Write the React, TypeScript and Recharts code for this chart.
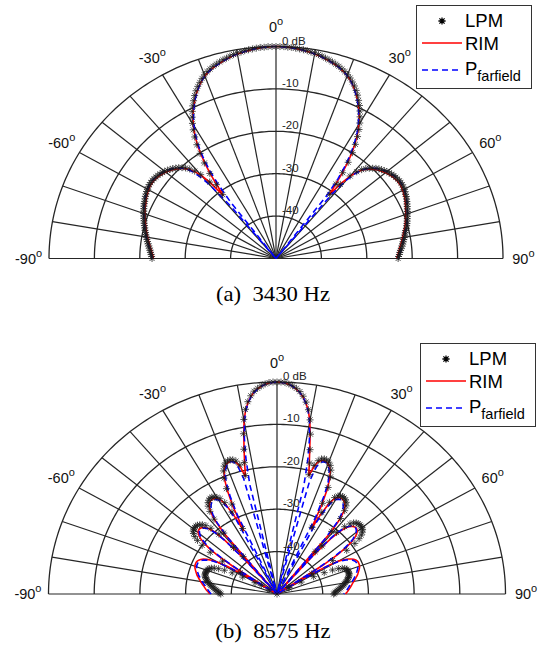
import React from 'react';
import { ComposedChart, Line, Scatter, XAxis, YAxis, Legend } from 'recharts';

// Sampling angles of every pattern, -90 deg .. 90 deg in 1 deg steps
const ANGLES_DEG: number[] = Array.from({ length: 181 }, (_, i) => i - 90);

const RING_LEVELS_DB = [-40, -30, -20, -10, 0];
const RING_LABELS = ['-40', '-30', '-20', '-10', '0 dB'];
const SPOKE_ANGLES_DEG = [-90, -80, -70, -60, -50, -40, -30, -20, -10, 0, 10, 20, 30, 40, 50, 60, 70, 80, 90];
const ANGLE_TICKS_DEG = [-90, -60, -30, 0, 30, 60, 90];
const ANGLE_TICK_LABELS = ['-90', '-60', '-30', '0', '30', '60', '90'];
const DB_FLOOR = -50;
const DB_CEIL = 0;

const CAPTION_A = '(a)  3430 Hz';
const CAPTION_B = '(b)  8575 Hz';

// ---- 3430 Hz ----
const TOP_LPM_DB = [
  -22.7, -22.6, -22.5, -22.3, -22.2, -22.0, -21.8, -21.6, -21.4, -21.2,
  -21.0, -20.8, -20.6, -20.4, -20.2, -20.0, -19.8, -19.6, -19.4, -19.2,
  -19.0, -18.8, -18.6, -18.4, -18.2, -18.1, -17.9, -17.7, -17.6, -17.4,
  -17.3, -17.2, -17.1, -17.1, -17.1, -17.2, -17.3, -17.4, -17.6, -17.8,
  -18.0, -18.3, -18.6, -18.9, -19.3, -19.7, -20.2, -20.8, -21.6, -22.7,
  -24.2, -26.8, -30.9, -28.2, -25.2, -22.5, -20.1, -18.0, -16.2, -14.6,
  -13.2, -11.9, -10.7, -9.6, -8.6, -7.6, -6.7, -5.9, -5.2, -4.5,
  -3.9, -3.4, -3.0, -2.6, -2.3, -2.0, -1.7, -1.5, -1.2, -1.0,
  -0.8, -0.7, -0.5, -0.4, -0.3, -0.2, -0.1, -0.1, 0, 0,
  0, 0, 0, -0.1, -0.1, -0.2, -0.3, -0.4, -0.5, -0.7,
  -0.8, -1.0, -1.2, -1.5, -1.7, -2.0, -2.3, -2.6, -3.0, -3.4,
  -3.9, -4.4, -5.1, -5.8, -6.6, -7.5, -8.5, -9.5, -10.6, -11.8,
  -13.1, -14.5, -16.1, -17.9, -19.9, -22.3, -25.0, -28.0, -30.8, -27.5,
  -24.6, -22.9, -21.8, -21.0, -20.4, -19.9, -19.4, -19.0, -18.7, -18.4,
  -18.1, -17.9, -17.7, -17.5, -17.4, -17.3, -17.2, -17.2, -17.2, -17.3,
  -17.4, -17.5, -17.7, -17.8, -18.0, -18.2, -18.4, -18.6, -18.8, -19.0,
  -19.2, -19.4, -19.6, -19.8, -20.0, -20.2, -20.4, -20.7, -20.9, -21.1,
  -21.3, -21.5, -21.7, -21.9, -22.1, -22.3, -22.5, -22.7, -22.8, -23.0,
  -23.1,
];

const TOP_RIM_DB = [
  -23.0, -22.9, -22.8, -22.6, -22.5, -22.3, -22.1, -21.9, -21.7, -21.5,
  -21.3, -21.1, -20.9, -20.7, -20.5, -20.3, -20.1, -19.9, -19.7, -19.5,
  -19.3, -19.1, -18.9, -18.7, -18.6, -18.4, -18.2, -18.0, -17.9, -17.7,
  -17.6, -17.5, -17.4, -17.4, -17.4, -17.5, -17.6, -17.7, -17.9, -18.1,
  -18.3, -18.6, -18.9, -19.2, -19.6, -20.0, -20.5, -21.1, -21.9, -23.0,
  -24.5, -27.0, -31.2, -28.6, -25.6, -22.9, -20.5, -18.4, -16.6, -15.0,
  -13.6, -12.3, -11.1, -10.0, -9.0, -8.0, -7.1, -6.3, -5.5, -4.8,
  -4.2, -3.7, -3.3, -2.9, -2.6, -2.3, -2.0, -1.7, -1.5, -1.2,
  -1.0, -0.9, -0.7, -0.6, -0.4, -0.3, -0.2, -0.1, -0.1, 0,
  0, 0, -0.1, -0.1, -0.2, -0.3, -0.4, -0.5, -0.7, -0.8,
  -1.0, -1.2, -1.4, -1.7, -1.9, -2.2, -2.5, -2.8, -3.2, -3.6,
  -4.1, -4.7, -5.4, -6.2, -7.0, -7.9, -8.9, -9.9, -11.0, -12.2,
  -13.5, -14.9, -16.5, -18.3, -20.3, -22.7, -25.4, -28.4, -31.0, -27.2,
  -24.7, -23.2, -22.1, -21.3, -20.7, -20.2, -19.8, -19.4, -19.1, -18.8,
  -18.5, -18.3, -18.1, -17.9, -17.8, -17.7, -17.6, -17.6, -17.6, -17.7,
  -17.8, -17.9, -18.1, -18.2, -18.4, -18.6, -18.8, -19.0, -19.2, -19.4,
  -19.6, -19.8, -20.0, -20.2, -20.4, -20.6, -20.8, -21.1, -21.3, -21.5,
  -21.7, -21.9, -22.1, -22.3, -22.5, -22.7, -22.8, -23.0, -23.1, -23.3,
  -23.4,
];

const TOP_FAR_DB = [
  -22.7, -22.6, -22.5, -22.3, -22.2, -22.0, -21.8, -21.6, -21.4, -21.2,
  -21.0, -20.8, -20.6, -20.4, -20.2, -20.0, -19.8, -19.6, -19.4, -19.2,
  -19.0, -18.8, -18.6, -18.4, -18.3, -18.1, -17.9, -17.7, -17.6, -17.4,
  -17.3, -17.2, -17.1, -17.1, -17.1, -17.2, -17.3, -17.4, -17.6, -17.8,
  -18.0, -18.3, -18.6, -18.9, -19.3, -19.8, -20.4, -21.2, -22.4, -24.3,
  -27.4, -34.0, -60.0, -33.5, -28.0, -24.2, -21.4, -19.0, -17.1, -15.4,
  -13.9, -12.6, -11.3, -10.2, -9.1, -8.1, -7.2, -6.3, -5.5, -4.8,
  -4.2, -3.7, -3.3, -2.9, -2.6, -2.3, -2.0, -1.7, -1.5, -1.2,
  -1.0, -0.9, -0.7, -0.6, -0.4, -0.3, -0.2, -0.1, -0.1, 0,
  0, 0, -0.1, -0.1, -0.2, -0.3, -0.4, -0.5, -0.7, -0.8,
  -1.0, -1.2, -1.4, -1.7, -1.9, -2.2, -2.5, -2.8, -3.2, -3.6,
  -4.1, -4.7, -5.4, -6.2, -7.1, -8.0, -9.0, -10.1, -11.2, -12.5,
  -13.8, -15.3, -17.0, -18.9, -21.1, -23.7, -26.8, -31.5, -62.0, -30.5,
  -25.8, -23.5, -22.1, -21.1, -20.4, -19.9, -19.4, -19.0, -18.7, -18.4,
  -18.1, -17.9, -17.7, -17.5, -17.4, -17.3, -17.2, -17.2, -17.2, -17.3,
  -17.4, -17.5, -17.7, -17.8, -18.0, -18.2, -18.4, -18.6, -18.8, -19.0,
  -19.2, -19.4, -19.6, -19.8, -20.0, -20.2, -20.4, -20.7, -20.9, -21.1,
  -21.3, -21.5, -21.7, -21.9, -22.1, -22.3, -22.4, -22.6, -22.7, -22.9,
  -23.0,
];

// ---- 8575 Hz ----
const BOTTOM_LPM_DB = [
  -37.7, -37.5, -37.2, -36.9, -36.6, -36.3, -36.0, -35.7, -35.4, -35.1,
  -34.8, -34.5, -34.3, -34.1, -33.9, -33.7, -33.6, -33.6, -33.6, -33.6,
  -33.7, -33.8, -34.0, -34.4, -35.0, -35.9, -37.2, -39.0, -41.5, -44.5,
  -48.0, -46.0, -40.5, -35.8, -32.4, -30.0, -28.5, -27.5, -26.8, -26.4,
  -26.2, -26.1, -26.1, -26.2, -26.5, -26.9, -27.6, -28.8, -31.0, -35.5,
  -38.5, -31.5, -27.6, -25.6, -24.4, -23.7, -23.3, -23.1, -23.1, -23.3,
  -23.7, -24.3, -25.6, -28.3, -32.8, -26.6, -22.8, -20.3, -18.7, -17.7,
  -17.1, -16.8, -16.7, -16.9, -17.4, -18.5, -21.2, -18.2, -15.1, -11.5,
  -8.2, -5.9, -4.2, -2.9, -1.9, -1.3, -0.8, -0.4, -0.1, 0,
  0, 0, -0.1, -0.4, -0.8, -1.3, -2.0, -3.0, -4.3, -6.0,
  -8.3, -11.6, -15.2, -18.3, -21.0, -18.6, -17.3, -16.7, -16.5, -16.6,
  -16.9, -17.5, -18.5, -20.0, -22.5, -26.4, -32.5, -28.4, -25.5, -24.0,
  -23.3, -23.0, -22.9, -23.0, -23.2, -23.6, -24.3, -25.4, -27.4, -31.0,
  -37.0, -35.0, -30.5, -28.3, -27.0, -26.3, -25.9, -25.7, -25.6, -25.6,
  -25.7, -25.9, -26.3, -26.9, -27.8, -29.2, -31.6, -35.5, -41.0, -47.0,
  -50.0, -47.0, -44.0, -41.0, -38.5, -36.6, -35.3, -34.5, -34.0, -33.7,
  -33.6, -33.5, -33.5, -33.5, -33.6, -33.7, -33.9, -34.1, -34.3, -34.6,
  -34.8, -35.1, -35.4, -35.7, -36.0, -36.3, -36.6, -36.9, -37.2, -37.4,
  -37.6,
];

const BOTTOM_RIM_DB = [
  -35.3, -35.1, -34.9, -34.6, -34.4, -34.2, -34.0, -33.8, -33.5, -33.3,
  -33.0, -32.8, -32.5, -32.3, -32.0, -31.8, -31.6, -31.4, -31.2, -31.0,
  -30.9, -30.8, -30.8, -30.8, -30.9, -31.1, -31.4, -31.9, -32.6, -33.6,
  -35.0, -37.4, -43.0, -56.0, -38.5, -34.2, -31.6, -30.0, -28.8, -28.0,
  -27.5, -27.2, -27.1, -27.2, -27.4, -27.9, -28.6, -30.0, -32.8, -39.0,
  -51.0, -31.8, -28.0, -26.0, -24.9, -24.2, -23.8, -23.6, -23.5, -23.7,
  -24.1, -24.7, -26.1, -29.0, -33.5, -27.2, -23.3, -20.7, -19.1, -18.1,
  -17.5, -17.2, -17.1, -17.3, -17.8, -18.9, -21.5, -18.5, -15.4, -11.9,
  -8.5, -6.1, -4.4, -3.1, -2.1, -1.4, -0.9, -0.5, -0.2, -0.1,
  0, -0.1, -0.2, -0.5, -0.9, -1.5, -2.2, -3.2, -4.5, -6.2,
  -8.6, -12.0, -15.6, -18.6, -21.3, -19.0, -17.7, -17.1, -16.9, -17.0,
  -17.3, -17.9, -18.9, -20.5, -23.0, -27.0, -33.0, -29.0, -26.0, -24.5,
  -23.8, -23.5, -23.4, -23.5, -23.7, -24.1, -24.7, -25.8, -27.8, -31.5,
  -50.0, -38.0, -32.5, -29.8, -28.3, -27.5, -27.0, -26.8, -26.7, -26.8,
  -27.1, -27.6, -28.4, -29.6, -31.3, -33.8, -38.0, -55.0, -43.0, -37.0,
  -34.6, -33.3, -32.4, -31.8, -31.3, -31.0, -30.8, -30.7, -30.7, -30.7,
  -30.8, -30.9, -31.1, -31.3, -31.5, -31.7, -31.9, -32.2, -32.4, -32.7,
  -32.9, -33.2, -33.4, -33.6, -33.8, -34.0, -34.2, -34.4, -34.6, -34.8,
  -35.0,
];

const BOTTOM_FAR_DB = [
  -35.6, -35.4, -35.2, -35.0, -34.8, -34.6, -34.4, -34.2, -33.9, -33.7,
  -33.4, -33.2, -32.9, -32.7, -32.4, -32.2, -32.0, -31.8, -31.6, -31.4,
  -31.3, -31.2, -31.2, -31.2, -31.3, -31.5, -31.8, -32.3, -33.0, -34.1,
  -35.6, -38.2, -44.5, -60.0, -39.8, -35.2, -32.4, -30.6, -29.4, -28.5,
  -27.9, -27.5, -27.4, -27.4, -27.6, -28.1, -28.9, -30.4, -33.5, -40.0,
  -60.0, -33.0, -28.8, -26.8, -25.6, -24.8, -24.3, -24.0, -23.9, -24.0,
  -24.4, -25.2, -26.8, -30.5, -60.0, -29.5, -24.8, -21.8, -19.8, -18.6,
  -17.8, -17.3, -17.2, -17.4, -18.3, -21.8, -60.0, -23.5, -17.2, -12.6,
  -8.9, -6.3, -4.5, -3.2, -2.2, -1.5, -0.9, -0.5, -0.2, -0.1,
  0, -0.1, -0.2, -0.5, -0.9, -1.5, -2.2, -3.2, -4.6, -6.4,
  -9.0, -12.8, -17.5, -24.0, -60.0, -22.5, -18.8, -17.6, -17.2, -17.2,
  -17.6, -18.3, -19.5, -21.4, -24.5, -30.0, -60.0, -31.0, -27.0, -25.2,
  -24.3, -23.9, -23.8, -23.9, -24.2, -24.7, -25.5, -26.8, -29.0, -33.5,
  -60.0, -36.5, -31.5, -29.2, -28.0, -27.3, -26.9, -26.8, -26.8, -27.0,
  -27.4, -28.0, -28.9, -30.2, -32.0, -34.8, -39.5, -60.0, -44.0, -37.8,
  -35.2, -33.8, -32.9, -32.2, -31.7, -31.4, -31.2, -31.1, -31.1, -31.1,
  -31.2, -31.3, -31.5, -31.7, -31.9, -32.1, -32.3, -32.6, -32.8, -33.1,
  -33.3, -33.6, -33.8, -34.0, -34.2, -34.4, -34.6, -34.8, -35.0, -35.2,
  -35.4,
];

// ---- geometry helpers ----
const CHART_W = 546;
const CHART_H = 280;
const GRID = '#262626';
const SANS = 'Arial, "Liberation Sans", Helvetica, sans-serif';
const SERIF = '"Times New Roman", "Liberation Serif", Times, serif';

type Pt = { x: number; y: number; text?: string };
type Geo = { cx: number; cy: number; rx: number; ry: number };

function toPoint(deg: number, r: number): Pt {
  const t = (deg * Math.PI) / 180;
  return { x: r * Math.sin(t), y: r * Math.cos(t) };
}
function dbToRadius(db: number) {
  return Math.max(0, (db - DB_FLOOR) / (DB_CEIL - DB_FLOOR));
}
function pattern(values: number[]): Pt[] {
  return ANGLES_DEG.map((a, i) => toPoint(a, dbToRadius(values[i])));
}

const ringPaths = RING_LEVELS_DB.map((db) => ANGLES_DEG.map((a) => toPoint(a, dbToRadius(db))));
const spokePaths = SPOKE_ANGLES_DEG.map((a) => [toPoint(a, 0), toPoint(a, 1)]);
const ringLabelPts = RING_LEVELS_DB.map((db, i) => ({ ...toPoint(0, dbToRadius(db)), text: RING_LABELS[i] }));
const angleLabelPts = ANGLE_TICKS_DEG.map((a, i) => ({ ...toPoint(a, 1.09), text: ANGLE_TICK_LABELS[i] }));

function asteriskPath(cx: number, cy: number, s: number) {
  const d = s * 0.72;
  return `M${cx - s},${cy}H${cx + s}M${cx},${cy - s}V${cy + s}M${cx - d},${cy - d}L${cx + d},${cy + d}M${cx - d},${cy + d}L${cx + d},${cy - d}`;
}

const Asterisk = (p: any) => {
  if (p.cx == null || p.cy == null) return <g />;
  return <path d={asteriskPath(p.cx, p.cy, 3.5)} stroke="#1a1a1a" strokeWidth={0.75} fill="none" />;
};

const AngleLabel = (p: any) => (
  <text x={p.cx} y={p.cy} textAnchor="middle" dominantBaseline="central" fontSize={14.5} fontFamily={SANS} fill="#111">
    {p.payload?.text}
    <tspan dy={-6} fontSize={11}>o</tspan>
  </text>
);

const RingLabel = (p: any) => (
  <text x={p.cx + 6} y={p.cy - 2} fontSize={11.5} fontFamily={SANS} fill="#222">
    {p.payload?.text}
  </text>
);

const LegendBox = () => (
  <svg width={116} height={84} style={{ display: 'block' }}>
    <rect x={0.5} y={0.5} width={115} height={83} fill="#fff" stroke="#333" strokeWidth={1} />
    <path d={asteriskPath(26, 16, 3.6)} stroke="#000" strokeWidth={1.3} fill="none" />
    <text x={49} y={22} fontSize={18.5} fontFamily={SANS} fill="#000">LPM</text>
    <line x1={6} x2={46} y1={38} y2={38} stroke="#ff0000" strokeWidth={1.3} />
    <text x={49} y={45} fontSize={18.5} fontFamily={SANS} fill="#000">RIM</text>
    <line x1={6} x2={46} y1={65} y2={65} stroke="#0000ff" strokeWidth={1.3} strokeDasharray="6 4" />
    <text x={49} y={70} fontSize={18.5} fontFamily={SANS} fill="#000">
      P<tspan dy={6} fontSize={14.5}>farfield</tspan>
    </text>
  </svg>
);

type PanelProps = {
  lpm: number[];
  rim: number[];
  far: number[];
  geo: Geo;
  legendLeft: number;
  legendTop: number;
};

function PolarPanel({ lpm, rim, far, geo, legendLeft, legendTop }: PanelProps) {
  const xDomain = [-geo.cx / geo.rx, (CHART_W - geo.cx) / geo.rx];
  const yDomain = [(geo.cy - CHART_H) / geo.ry, geo.cy / geo.ry];
  return (
    <ComposedChart width={CHART_W} height={CHART_H} margin={{ top: 0, right: 0, bottom: 0, left: 0 }}>
      <XAxis type="number" dataKey="x" domain={xDomain} allowDataOverflow hide />
      <YAxis type="number" dataKey="y" domain={yDomain} allowDataOverflow hide />
      {spokePaths.map((d, i) => (
        <Line key={`spoke-${i}`} data={d} dataKey="y" stroke={GRID} strokeWidth={1.2} dot={false}
          isAnimationActive={false} legendType="none" />
      ))}
      {ringPaths.map((d, i) => (
        <Line key={`ring-${i}`} data={d} dataKey="y" stroke={GRID} strokeWidth={1.3} dot={false}
          isAnimationActive={false} legendType="none" />
      ))}
      <Scatter data={angleLabelPts} dataKey="y" shape={AngleLabel} isAnimationActive={false} legendType="none" />
      <Scatter data={ringLabelPts} dataKey="y" shape={RingLabel} isAnimationActive={false} legendType="none" />
      <Scatter name="LPM" data={pattern(lpm)} dataKey="y" shape={Asterisk} isAnimationActive={false} />
      <Line name="RIM" data={pattern(rim)} dataKey="y" stroke="#ff0000" strokeWidth={1.6} dot={false}
        isAnimationActive={false} />
      <Line name="Pfarfield" data={pattern(far)} dataKey="y" stroke="#0000ff" strokeWidth={1.6}
        strokeDasharray="6 4" dot={false} isAnimationActive={false} />
      <Legend content={LegendBox} layout="horizontal" verticalAlign="middle" align="center"
        wrapperStyle={{ left: legendLeft, top: legendTop, width: 116, height: 84 }} />
    </ComposedChart>
  );
}

const captionStyle: React.CSSProperties = {
  position: 'absolute',
  left: 0,
  width: CHART_W,
  textAlign: 'center',
  fontFamily: SERIF,
  fontSize: 21,
  lineHeight: '21px',
  whiteSpace: 'pre',
  color: '#000',
  transform: 'scaleX(1.08)',
};

export default function App() {
  return (
    <div style={{ position: 'absolute', left: 0, top: 0, width: 546, height: 647, background: '#fff', overflow: 'hidden' }}>
      <div style={{ position: 'absolute', left: 0, top: 0 }}>
        <PolarPanel lpm={TOP_LPM_DB} rim={TOP_RIM_DB} far={TOP_FAR_DB}
          geo={{ cx: 276, cy: 258.5, rx: 227, ry: 212 }} legendLeft={416} legendTop={5} />
      </div>
      <div style={{ ...captionStyle, top: 284 }}>{CAPTION_A}</div>
      <div style={{ position: 'absolute', left: 0, top: 335 }}>
        <PolarPanel lpm={BOTTOM_LPM_DB} rim={BOTTOM_RIM_DB} far={BOTTOM_FAR_DB}
          geo={{ cx: 277, cy: 259, rx: 228.5, ry: 212 }} legendLeft={420} legendTop={8} />
      </div>
      <div style={{ ...captionStyle, top: 621 }}>{CAPTION_B}</div>
    </div>
  );
}
